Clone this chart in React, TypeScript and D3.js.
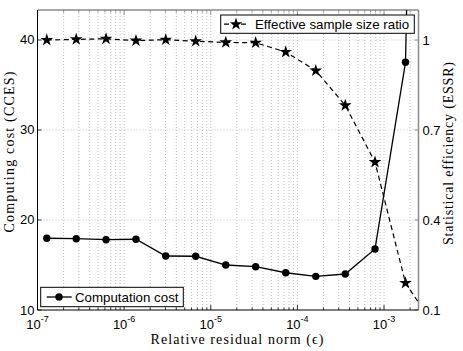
import React from "react";
import * as d3 from "d3";

// residual norm values (x) shared by both series
const epsValues = [
  1.28e-7, 2.8e-7, 6.18e-7, 1.37e-6, 3.02e-6, 6.7e-6, 1.49e-5, 3.3e-5, 7.33e-5,
  1.63e-4, 3.57e-4, 7.87e-4, 1.77e-3, 3.93e-3,
];
const costValues = [
  17.97, 17.92, 17.81, 17.86, 16.0, 15.97, 15.0, 14.81, 14.14, 13.74, 14.0,
  16.78, 37.52, 200,
];
const essrValues = [
  1.0, 1.002, 1.004, 0.998, 1.001, 0.996, 0.992, 0.991, 0.96, 0.898, 0.782,
  0.593, 0.19, 0.04,
];
const xMajorTicks = [1e-7, 1e-6, 1e-5, 1e-4, 1e-3];
const xTickExponents = ["-7", "-6", "-5", "-4", "-3"];
const leftTicks = [10, 20, 30, 40];
const rightTicks = [0.1, 0.4, 0.7, 1];

const W = 463;
const H = 351;
const m = { left: 37.5, right: 418.5, top: 10, bottom: 310 };

const sans = "'Liberation Sans', Arial, Helvetica, sans-serif";
const serif = "'Liberation Serif', 'Times New Roman', serif";

export default function App() {
  const x = d3.scaleLog().domain([1e-7, 2.5e-3]).range([m.left, m.right]);
  const yL = d3.scaleLinear().domain([10, 43.333]).range([m.bottom, m.top]);
  const yR = d3.scaleLinear().domain([0.1, 1.1]).range([m.bottom, m.top]);

  const minorTicks: number[] = [];
  for (let k = -7; k <= -3; k++) {
    for (let j = 2; j <= 9; j++) {
      const v = j * Math.pow(10, k);
      if (v < 2.5e-3) minorTicks.push(v);
    }
  }

  const costLine = d3
    .line<number>()
    .x((d, i) => x(epsValues[i]))
    .y((d) => yL(d));
  const essrLine = d3
    .line<number>()
    .x((d, i) => x(epsValues[i]))
    .y((d) => yR(d));

  const star = d3.symbol(d3.symbolStar, 50)();
  const inDomain = (i: number) => epsValues[i] <= 2.5e-3;

  const grid = "#b0b0b0";

  return (
    <div style={{ position: "fixed", left: 0, top: 0 }}>
      <svg width={W} height={H} style={{ display: "block", background: "#fff" }}>
        <defs>
          <clipPath id="plot">
            <rect x={m.left} y={m.top} width={m.right - m.left} height={m.bottom - m.top} />
          </clipPath>
        </defs>

        {/* grid */}
        <g stroke={grid} strokeWidth={0.8} strokeDasharray="1,2">
          {[...xMajorTicks, ...minorTicks].map((t) => (
            <line key={"gx" + t} x1={x(t)} x2={x(t)} y1={m.top} y2={m.bottom} />
          ))}
          {leftTicks.slice(1).map((t) => (
            <line key={"gy" + t} x1={m.left} x2={m.right} y1={yL(t)} y2={yL(t)} />
          ))}
        </g>

        {/* ticks */}
        <g stroke="#000" strokeWidth={0.8}>
          {xMajorTicks.map((t) => (
            <g key={"tx" + t}>
              <line x1={x(t)} x2={x(t)} y1={m.bottom} y2={m.bottom - 5} />
              <line x1={x(t)} x2={x(t)} y1={m.top} y2={m.top + 5} stroke="#777" />
            </g>
          ))}
          {minorTicks.map((t) => (
            <g key={"mx" + t}>
              <line x1={x(t)} x2={x(t)} y1={m.bottom} y2={m.bottom - 2.5} />
              <line x1={x(t)} x2={x(t)} y1={m.top} y2={m.top + 2.5} stroke="#777" />
            </g>
          ))}
          {leftTicks.map((t) => (
            <line key={"tl" + t} x1={m.left} x2={m.left + 4} y1={yL(t)} y2={yL(t)} />
          ))}
          {rightTicks.map((t) => (
            <line key={"tr" + t} x1={m.right} x2={m.right - 4} y1={yR(t)} y2={yR(t)} stroke="#777" />
          ))}
        </g>

        {/* frame */}
        <line x1={m.left} x2={m.right} y1={m.top} y2={m.top} stroke="#8a8a8a" strokeWidth={1.5} />
        <line x1={m.right} x2={m.right} y1={m.top} y2={m.bottom} stroke="#8a8a8a" strokeWidth={1.5} />
        <line x1={m.left} x2={m.left} y1={m.top} y2={m.bottom} stroke="#000" strokeWidth={1} />
        <line x1={m.left} x2={m.right} y1={m.bottom} y2={m.bottom} stroke="#000" strokeWidth={1} />

        {/* series */}
        <g clipPath="url(#plot)">
          <path d={essrLine(essrValues) || ""} fill="none" stroke="#000" strokeWidth={1.2} strokeDasharray="5,3.5" />
          {essrValues.map((v, i) =>
            inDomain(i) ? (
              <path key={"s" + i} d={star || ""} transform={`translate(${x(epsValues[i])},${yR(v)})`} fill="#000" />
            ) : null
          )}
          <path d={costLine(costValues) || ""} fill="none" stroke="#000" strokeWidth={1.3} />
          {costValues.map((v, i) =>
            inDomain(i) ? <circle key={"c" + i} cx={x(epsValues[i])} cy={yL(v)} r={3.7} fill="#000" /> : null
          )}
        </g>

        {/* tick labels */}
        <g fontFamily={sans} fontSize={13} fill="#000">
          {leftTicks.map((t) => (
            <text key={"ll" + t} x={m.left - 3} y={yL(t) + 4.5} textAnchor="end">
              {t}
            </text>
          ))}
          {rightTicks.map((t) => (
            <text key={"rl" + t} x={m.right + 4} y={yR(t) + 4.5}>
              {String(t)}
            </text>
          ))}
          {xMajorTicks.map((t, i) => (
            <text key={"xl" + t} x={x(t)} y={329} textAnchor="middle">
              <tspan>10</tspan>
              <tspan dy={-7} fontSize={9}>
                {xTickExponents[i]}
              </tspan>
            </text>
          ))}
        </g>

        {/* axis titles */}
        <text x={237} y={344} fontFamily={serif} fontSize={14} textAnchor="middle" textLength={173} lengthAdjust="spacing">
          Relative residual norm (ϵ)
        </text>
        <text
          transform={`translate(14,152) rotate(-90)`}
          fontFamily={serif}
          fontSize={14}
          textAnchor="middle"
          textLength={161}
          lengthAdjust="spacing"
        >
          Computing cost (CCES)
        </text>
        <text
          transform={`translate(453,153.5) rotate(-90)`}
          fontFamily={serif}
          fontSize={14}
          textAnchor="middle"
          textLength={183}
          lengthAdjust="spacing"
        >
          Statistical efficiency (ESSR)
        </text>

        {/* legend: ESSR */}
        <g>
          <rect x={220.7} y={15} width={193.6} height={18.3} fill="#fff" stroke="#000" strokeWidth={1} />
          <line x1={224} x2={248} y1={24.2} y2={24.2} stroke="#000" strokeWidth={1.2} strokeDasharray="5,3.5" />
          <path d={star || ""} transform="translate(236,24.2)" fill="#000" />
          <text x={255} y={29.3} fontFamily={sans} fontSize={13.3}>
            Effective sample size ratio
          </text>
        </g>

        {/* legend: cost */}
        <g>
          <rect x={40.7} y={287.3} width={142.6} height={19.4} fill="#fff" stroke="#000" strokeWidth={1} />
          <line x1={46.7} x2={71.7} y1={297} y2={297} stroke="#000" strokeWidth={1.3} />
          <circle cx={59} cy={297} r={3.7} fill="#000" />
          <text x={75} y={302} fontFamily={sans} fontSize={13.3}>
            Computation cost
          </text>
        </g>
      </svg>
    </div>
  );
}
